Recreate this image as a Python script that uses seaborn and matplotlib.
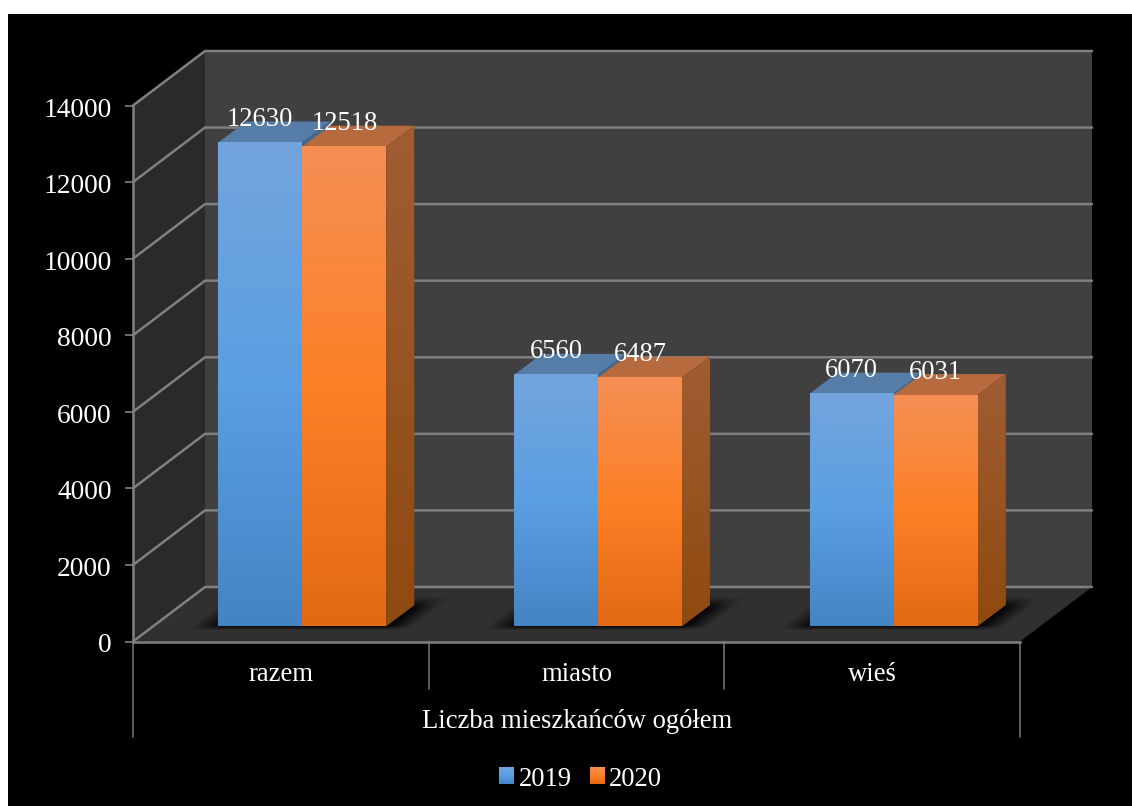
import numpy as np
import pandas as pd
import seaborn as sns
import matplotlib.pyplot as plt
from matplotlib.colors import LinearSegmentedColormap
from matplotlib.patches import Polygon
from matplotlib.transforms import ScaledTranslation

#chart values
categories = ['razem', 'miasto', 'wieś']
values_2019 = [12630, 6560, 6070]
values_2020 = [12518, 6487, 6031]
years = ['2019', '2020']
group_label = 'Liczba mieszkańców ogółem'
y_ticks = [0, 2000, 4000, 6000, 8000, 10000, 12000, 14000]

W, H = 1132, 806
LEFT, RIGHT, BASE, TOP = 133, 1020, 641.5, 105.5  #front plane of the box, pixels
BACK_X, BACK_Y = 72, 54.5  #how far the back wall is shifted
BAR_X, BAR_Y = 21.5, 15.5  #bars stand a bit inside the box
DEPTH_X, DEPTH_Y = 28, 21  #depth of one bar
GRID = '#808080'
FONT = 19.2

face_cols = [['#73a4dd', '#5a9fe2', '#4484c4'], ['#f68f55', '#fc8026', '#e26914']]
top_cols = ['#557da8', '#b76a3d']
side_cols = [['#48688c', '#36587c'], ['#a05d33', '#8f4a0f']]

sns.set_theme(style='white')
plt.rcParams['font.family'] = ['Liberation Serif', 'DejaVu Serif']

fig = plt.figure(figsize=(W / 100, H / 100), dpi=100, facecolor='black')


def rect(x0, y_bottom, w, h):
    return [x0 / W, 1 - y_bottom / H, w / W, h / H]


def gradient(ax, cols, extent, zorder, clip=None):
    cmap = LinearSegmentedColormap.from_list('g', cols)
    im = ax.imshow(np.linspace(0, 1, 128).reshape(-1, 1), cmap=cmap, extent=extent,
                   aspect='auto', origin='upper', zorder=zorder, clip_on=clip is not None)
    if clip is not None:
        im.set_clip_path(clip)
    return im


#background layer in pixel coordinates: walls, floor, grid
bg = fig.add_axes([0, 0, 1, 1], zorder=0)
bg.set_xlim(0, W)
bg.set_ylim(H, 0)
bg.axis('off')
bg.add_patch(Polygon([(0, 0), (W, 0), (W, 14), (8, 14), (8, H), (0, H)], fc='white', ec='none'))
bg.add_patch(Polygon([(LEFT + BACK_X, TOP - BACK_Y), (RIGHT + BACK_X, TOP - BACK_Y),
                      (RIGHT + BACK_X, BASE - BACK_Y), (LEFT + BACK_X, BASE - BACK_Y)], fc='#404040', ec='none'))
bg.add_patch(Polygon([(LEFT, TOP), (LEFT + BACK_X, TOP - BACK_Y),
                      (LEFT + BACK_X, BASE - BACK_Y), (LEFT, BASE)], fc='#2a2a2a', ec='none'))
bg.add_patch(Polygon([(LEFT, BASE), (RIGHT, BASE), (RIGHT + BACK_X, BASE - BACK_Y),
                      (LEFT + BACK_X, BASE - BACK_Y)], fc='#303030', ec='none'))

for v in y_ticks:
    y = BASE - v * (BASE - TOP) / 14000
    bg.plot([LEFT, LEFT + BACK_X, RIGHT + BACK_X], [y, y - BACK_Y, y - BACK_Y], color=GRID, lw=1.8)

#lines under the category axis
for x, end in [(LEFT, 737), (LEFT + (RIGHT - LEFT) / 3, 689), (LEFT + 2 * (RIGHT - LEFT) / 3, 689), (RIGHT, 737)]:
    bg.plot([x, x], [BASE, end], color='#6f6f6f', lw=1.2)

#soft shadow of the bars on the floor
xx, yy = np.meshgrid(np.arange(W), np.arange(H))
shadow = np.zeros((H, W, 4))
for i in range(3):
    centre = LEFT + (i + 0.5) * (RIGHT - LEFT) / 3 + BAR_X
    xs = xx - (626 - yy) * DEPTH_X / DEPTH_Y
    x_part = np.clip((xs - (centre - 112)) / 30, 0, 1) * np.clip(((centre + 110) - xs) / 24, 0, 1)
    y_part = np.clip((yy - 596) / 11, 0, 1) * np.clip((630 - yy) / 5, 0, 1)
    shadow[..., 3] = np.maximum(shadow[..., 3], x_part * y_part * 0.9)
bg.imshow(shadow, extent=[0, W, H, 0], aspect='auto', zorder=2)
bg.set_xlim(0, W)
bg.set_ylim(H, 0)

#front plane keeps the real axes
ax = fig.add_axes(rect(LEFT, BASE, RIGHT - LEFT, BASE - TOP), zorder=1)
ax.patch.set_alpha(0)
ax.set_xlim(-0.5, 2.5)
ax.set_ylim(0, 14000)
ax.set_yticks(y_ticks)
ax.set_xticks(range(3))
ax.set_xticklabels(categories)
ax.tick_params(axis='y', length=5.8, width=1.2, color=GRID, pad=9.5, labelsize=19.8, labelcolor='white', left=True)
ax.tick_params(axis='x', length=0, pad=14.5, labelsize=FONT, labelcolor='white')
sns.despine(ax=ax, top=True, right=True)
for s in ['left', 'bottom']:
    ax.spines[s].set_color(GRID)
    ax.spines[s].set_linewidth(1.8)
#tick labels sit a little under their ticks in the original
for t in ax.get_yticklabels():
    t.set_transform(t.get_transform() + ScaledTranslation(0, -1.5 / 100, fig.dpi_scale_trans))
bg.text(577, 722, group_label, color='white', fontsize=FONT, ha='center', va='center')

#bars
df = pd.DataFrame({
    'obszar': categories * 2,
    'liczba': values_2019 + values_2020,
    'rok': [years[0]] * 3 + [years[1]] * 3,
})
ax_bars = fig.add_axes(rect(LEFT + BAR_X, BASE - BAR_Y, RIGHT - LEFT, BASE - TOP), zorder=2)
sns.barplot(data=df, x='obszar', y='liczba', hue='rok', hue_order=years,
            palette=[c[1] for c in face_cols], width=0.568, gap=0, saturation=1,
            errorbar=None, linewidth=0, ax=ax_bars)
ax_bars.patch.set_alpha(0)
ax_bars.set_xlim(-0.5, 2.5)
ax_bars.set_ylim(0, 14000)
ax_bars.axis('off')

dx = DEPTH_X * 3 / (RIGHT - LEFT)
dy = DEPTH_Y * 14000 / (BASE - TOP)
for s, cont in enumerate(ax_bars.containers):
    z = 3 + s
    for bar in cont:
        x0, w, h = bar.get_x(), bar.get_width(), bar.get_height()
        bar.set_zorder(z)
        gradient(ax_bars, face_cols[s], [x0, x0 + w, 0, h], z + 0.3)
        ax_bars.add_patch(Polygon([(x0, h), (x0 + w, h), (x0 + w + dx, h + dy), (x0 + dx, h + dy)],
                                  fc=top_cols[s], ec='none', zorder=z, clip_on=False))
        side = Polygon([(x0 + w, 0), (x0 + w + dx, dy), (x0 + w + dx, h + dy), (x0 + w, h)],
                       fc=side_cols[s][1], ec='none', zorder=z, clip_on=False)
        ax_bars.add_patch(side)
        gradient(ax_bars, side_cols[s], [x0 + w, x0 + w + dx, 0, h + dy], z + 0.1, clip=side)
    labels = ax_bars.bar_label(cont, padding=7.5, color='white', fontsize=FONT)
    for t in labels:
        t.set_zorder(10)

#legend, swatches get the same gradient afterwards
handles, labels = ax_bars.get_legend_handles_labels()
leg = ax_bars.legend(handles, labels, loc='center', bbox_to_anchor=(580.5 / W, 1 - 779 / H),
                     bbox_transform=fig.transFigure, ncol=2, frameon=False, fontsize=FONT,
                     labelcolor='white', handlelength=0.55, handleheight=0.55,
                     handletextpad=0.19, columnspacing=0.68, borderpad=0)
fig.canvas.draw()
inv = ax_bars.transData.inverted()
for s, p in enumerate(leg.get_patches()):
    p.set_linewidth(0)
    b = p.get_window_extent()
    (x0, y0), (x1, y1) = inv.transform([(b.x0, b.y0), (b.x1, b.y1)])
    im = gradient(ax_bars, face_cols[s], [x0, x1, y0, y1], 12)
    im.set_clip_on(False)

ax_bars.set_xlim(-0.5, 2.5)
ax_bars.set_ylim(0, 14000)

fig.savefig('out.png', dpi=100, facecolor='black')
